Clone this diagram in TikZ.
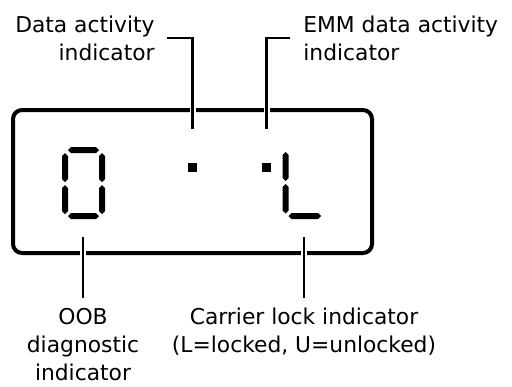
\documentclass[tikz,border=0pt]{standalone}
\usepackage{fontspec}
\setmainfont{DejaVu Sans}
\usetikzlibrary{positioning, calc}

% seven-segment pieces, in pixel units
\newcommand{\lcdh}[3]{\fill (#1,#3) -- (#1+3,#3-3) -- (#2-3,#3-3) -- (#2,#3) -- (#2-3,#3+3) -- (#1+3,#3+3) -- cycle;}
\newcommand{\lcdv}[3]{\fill (#1,#2) -- (#1+3,#2+3) -- (#1+3,#3-3) -- (#1,#3) -- (#1-3,#3-3) -- (#1-3,#2+3) -- cycle;}

\tikzset{
  lbl/.style={inner sep=0pt, font=\fontsize{10.9pt}{14pt}\selectfont},
  leader/.style={line width=1.25pt, preaction={draw=white, line width=3pt}},
  lcddot/.style={fill=black, inner sep=0pt, minimum size=4.5pt}
}

\begin{document}
\begin{tikzpicture}[x=0.5pt, y=-0.5pt]
  \useasboundingbox (0,0) rectangle (512,386);

  % Display frame
  \node[draw, line width=2pt, rounded corners=4.5pt, minimum width=179.5pt, minimum height=71.5pt, inner sep=0pt] (lcd) at (192.5,181.5) {};

  % Digit 0
  \lcdh{68}{99}{150}
  \lcdh{68}{99}{216}
  \lcdv{65}{153}{182}
  \lcdv{65}{185}{214}
  \lcdv{102}{153}{182}
  \lcdv{102}{185}{214}

  % Letter L
  \lcdv{285.7}{152}{181}
  \lcdv{285.7}{184}{213.5}
  \lcdh{288.5}{321}{216}

  % Activity dots
  \node[lcddot] (datadot) at (192.5,167.5) {};
  \node[lcddot] (emmdot) at (266.5,167.5) {};

  % Labels
  \node[lbl, anchor=north east, align=right] (datalbl) at (155,15.5) {Data activity\\indicator};
  \node[lbl, anchor=north west, align=left] (emmlbl) at (303,15.5) {EMM data activity\\indicator};
  \node[lbl, anchor=north, align=center] (ooblbl) at (83,308) {OOB\\diagnostic\\indicator};
  \node[lbl, anchor=north, align=center] (carrlbl) at (304,308) {Carrier lock indicator\\(L=locked, U=unlocked)};

  % Leader lines
  \coordinate (datacorner) at (167,38);
  \coordinate (emmcorner) at (290,38);
  \coordinate (oobtop) at (83,237);
  \coordinate (carrtop) at (304,237);
  \draw[leader] (datacorner) -| ([yshift=17pt]datadot.north);
  \draw[leader] (emmcorner) -| ([yshift=17pt]emmdot.north);
  \draw[leader] (oobtop) -- ([yshift=5pt]ooblbl.north);
  \draw[leader] (carrtop) -- ([yshift=5pt]carrlbl.north);
\end{tikzpicture}
\end{document}
